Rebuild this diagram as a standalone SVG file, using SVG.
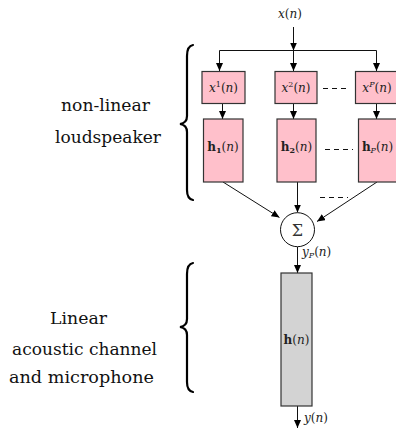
<svg xmlns="http://www.w3.org/2000/svg" width="396" height="429" viewBox="0 0 396 429">
<style>
.lbl{font-family:'DejaVu Serif',serif;font-size:17px;fill:#111;text-anchor:middle}
.m{font-family:'DejaVu Serif',serif;font-size:12px;fill:#222;text-anchor:middle}
.st{text-anchor:start}
.i{font-style:italic}
.b{font-weight:bold}
.pink{fill:#ffc0cb;stroke:#333;stroke-width:1.2}
.gray{fill:#d3d3d3;stroke:#333;stroke-width:1.2}
.ln{stroke:#111;stroke-width:1;fill:none}
.ar{stroke:#111;stroke-width:1;fill:none;marker-end:url(#arr)}
.dash{stroke:#111;stroke-width:1;stroke-dasharray:5,4;fill:none}
.brace{stroke:#000;stroke-width:2.2;fill:none;stroke-linecap:round}
</style>
<defs>
<marker id="arr" markerWidth="8" markerHeight="8" refX="8" refY="3.5" orient="auto" markerUnits="userSpaceOnUse">
<path d="M0,0 L8,3.5 L0,7 z" fill="#000"/>
</marker>
</defs>
<rect width="396" height="429" fill="#fff"/>

<g id="labels">
<text class="lbl" x="105.5" y="111" textLength="89" lengthAdjust="spacingAndGlyphs">non-linear</text>
<text class="lbl" x="108" y="143" textLength="106" lengthAdjust="spacingAndGlyphs">loudspeaker</text>
<text class="lbl" x="78.5" y="324" textLength="57" lengthAdjust="spacingAndGlyphs">Linear</text>
<text class="lbl" x="84.5" y="355" textLength="145" lengthAdjust="spacingAndGlyphs">acoustic channel</text>
<text class="lbl" x="81.5" y="383" textLength="145" lengthAdjust="spacingAndGlyphs">and microphone</text>
</g>

<g id="braces">
<path class="brace" d="M193,45 Q187,46 187,56 L187,116 Q187,123 180,124 Q187,125 187,132 L187,190 Q187,199 193,200"/>
<path class="brace" d="M193,263 Q187,264 187,274 L187,319 Q187,326 180,327 Q187,328 187,335 L187,382 Q187,391 193,392"/>
</g>

<g id="connectors">
<line class="ar" x1="293.5" y1="27" x2="293.5" y2="50.5"/>
<polyline class="ln" points="219.5,50.5 376.5,50.5"/>
<line class="ar" x1="219.5" y1="50.5" x2="219.5" y2="71"/>
<line class="ar" x1="293.5" y1="50.5" x2="293.5" y2="71"/>
<line class="ar" x1="376.5" y1="50.5" x2="376.5" y2="71"/>
<line class="ar" x1="222.5" y1="103" x2="222.5" y2="119"/>
<line class="ar" x1="293.5" y1="103" x2="293.5" y2="119"/>
<line class="ar" x1="376.5" y1="103" x2="376.5" y2="119"/>
<line class="dash" x1="323" y1="88.5" x2="350" y2="88.5"/>
<line class="dash" x1="325" y1="149.5" x2="353" y2="149.5"/>
<line class="dash" x1="320" y1="197.5" x2="348" y2="197.5"/>
<line class="ar" x1="223" y1="182" x2="279.5" y2="217.5"/>
<line class="ar" x1="297.5" y1="182" x2="297.5" y2="212.5"/>
<line class="ar" x1="377" y1="182" x2="317" y2="221.5"/>
<line class="ar" x1="297.5" y1="247" x2="297.5" y2="273"/>
<line class="ar" x1="297.5" y1="406" x2="297.5" y2="428"/>
</g>

<text id="input" class="m" x="290" y="18"><tspan class="i">x</tspan>(<tspan class="i">n</tspan>)</text>

<g id="x1">
<rect class="pink" x="202" y="71.5" width="43" height="32"/>
<text class="m" x="223.5" y="92"><tspan class="i">x</tspan><tspan font-size="8" dy="-5">1</tspan><tspan dy="5">(</tspan><tspan class="i">n</tspan>)</text>
</g>
<g id="x2">
<rect class="pink" x="275" y="71.5" width="42" height="32"/>
<text class="m" x="296" y="92"><tspan class="i">x</tspan><tspan font-size="8" dy="-5">2</tspan><tspan dy="5">(</tspan><tspan class="i">n</tspan>)</text>
</g>
<g id="xP">
<rect class="pink" x="355.5" y="71.5" width="42" height="32"/>
<text class="m" x="377" y="92"><tspan class="i">x</tspan><tspan font-size="8" dy="-5" class="i">P</tspan><tspan dy="5">(</tspan><tspan class="i">n</tspan>)</text>
</g>

<g id="h1">
<rect class="pink" x="203.5" y="119" width="39.5" height="63"/>
<text class="m" x="223" y="151"><tspan class="b">h</tspan><tspan font-size="8" dy="2" class="b">1</tspan><tspan dy="-2">(</tspan><tspan class="i">n</tspan>)</text>
</g>
<g id="h2">
<rect class="pink" x="277" y="119" width="39" height="63"/>
<text class="m" x="296.5" y="151"><tspan class="b">h</tspan><tspan font-size="8" dy="2" class="b">2</tspan><tspan dy="-2">(</tspan><tspan class="i">n</tspan>)</text>
</g>
<g id="hP">
<rect class="pink" x="358.5" y="119" width="39" height="63"/>
<text class="m" x="377.5" y="151"><tspan class="b">h</tspan><tspan font-size="8" dy="2" class="i">P</tspan><tspan dy="-2">(</tspan><tspan class="i">n</tspan>)</text>
</g>

<g id="sum">
<circle cx="297.5" cy="229.7" r="17" fill="#fff" stroke="#111" stroke-width="1"/>
<text x="297.5" y="235.5" font-family="DejaVu Serif" font-size="16" fill="#333" text-anchor="middle">Σ</text>
</g>
<text id="yP" class="m st" x="302" y="256"><tspan class="i">y</tspan><tspan font-size="8" dy="2" class="i">P</tspan><tspan dy="-2">(</tspan><tspan class="i">n</tspan>)</text>

<g id="h">
<rect class="gray" x="281" y="273" width="31" height="133"/>
<text class="m" x="296.5" y="344"><tspan class="b">h</tspan>(<tspan class="i">n</tspan>)</text>
</g>
<text id="output" class="m st" x="304" y="422"><tspan class="i">y</tspan>(<tspan class="i">n</tspan>)</text>
</svg>
